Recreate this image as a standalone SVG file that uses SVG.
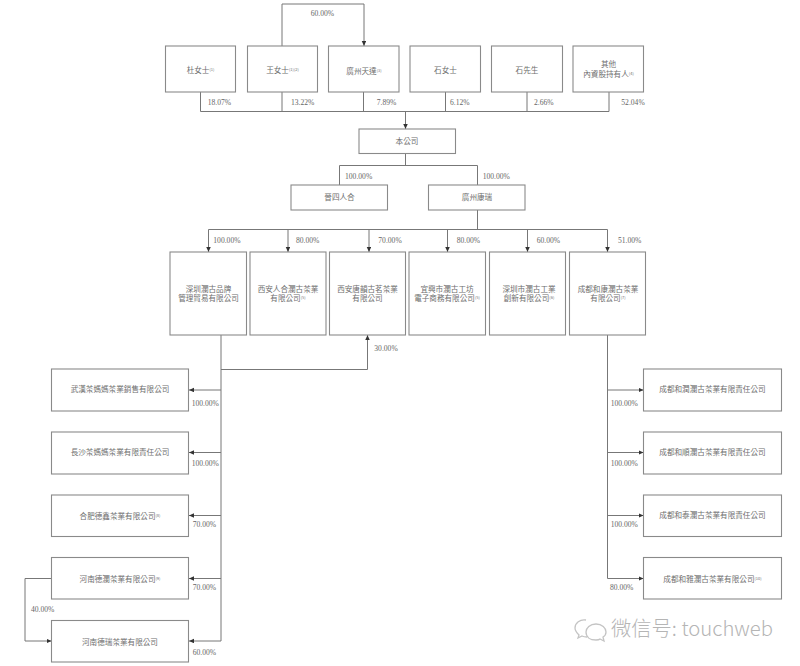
<svg xmlns="http://www.w3.org/2000/svg" width="800" height="666" viewBox="0 0 800 666">
<style>
rect{fill:#fff;stroke:#8a8a8a;stroke-width:1.1}
text{font-family:"Noto Sans CJK TC","Noto Sans CJK SC",sans-serif;font-size:7.6px;fill:#6e6e6e;text-anchor:middle}
.p{font-family:"Liberation Serif",serif;font-size:7.6px;fill:#666;text-anchor:start}
tspan.s{font-size:4px;baseline-shift:2.5px}
#connectors path{fill:none;stroke:#777;stroke-width:1}
#wm text{fill:#b5b5b5;text-anchor:start;font-size:20px;font-family:"Noto Sans CJK SC","Liberation Sans",sans-serif;font-weight:300}
#wm path,#wm circle{fill:none;stroke:#c4c4c4;stroke-width:1.3}
</style>
<defs><marker id="a" markerUnits="userSpaceOnUse" markerWidth="6" markerHeight="6" refX="5" refY="2.25" orient="auto"><path d="M0,0L5,2.25L0,4.5z" fill="#333"/></marker></defs>
<rect x="0" y="0" width="800" height="666" style="fill:#fff;stroke:none"/>
<g id="connectors">
<path d="M282,46V4H364V46" marker-end="url(#a)"/>
<path d="M200.500,92V111.500M282,92V111.500M363.500,92V111.500M445.500,92V111.500M527,92V111.500M609,92V111.500M200.500,111.500H609"/>
<path d="M405.500,111.500V129" marker-end="url(#a)"/>
<path d="M405.500,154V165.500M339.500,185V165.500H477.500V185M477.500,210V229.500M208.500,229.500H607.500"/>
<path d="M208.500,229.500V252" marker-end="url(#a)"/><path d="M288,229.500V252" marker-end="url(#a)"/><path d="M369,229.500V252" marker-end="url(#a)"/><path d="M447.500,229.500V252" marker-end="url(#a)"/><path d="M527.500,229.500V252" marker-end="url(#a)"/><path d="M607.500,229.500V252" marker-end="url(#a)"/>
<path d="M221,335V641"/>
<path d="M221,369.500H367.500V335" marker-end="url(#a)"/>
<path d="M221,390H189" marker-end="url(#a)"/><path d="M221,452.500H189" marker-end="url(#a)"/><path d="M221,515.500H189" marker-end="url(#a)"/><path d="M221,578.500H189" marker-end="url(#a)"/><path d="M221,641H189" marker-end="url(#a)"/>
<path d="M51.500,578.500H25V641H51.500" marker-end="url(#a)"/>
<path d="M607.500,335V578.500H643.500" marker-end="url(#a)"/>
<path d="M607.500,390H643.500" marker-end="url(#a)"/><path d="M607.500,452.500H643.500" marker-end="url(#a)"/><path d="M607.500,515.500H643.500" marker-end="url(#a)"/>
</g>
<g id="n1"><rect x="165.500" y="46" width="70" height="46"/><text x="200.500" y="72.500">杜女士<tspan class="s">(1)</tspan></text></g>
<g id="n2"><rect x="247.500" y="46" width="70" height="46"/><text x="282.500" y="73">王女士<tspan class="s">(1)(2)</tspan></text></g>
<g id="n3"><rect x="328.500" y="46" width="70.500" height="46"/><text x="364" y="74">廣州天達<tspan class="s">(3)</tspan></text></g>
<g id="n4"><rect x="410" y="46" width="70.500" height="46"/><text x="445.500" y="73">石女士</text></g>
<g id="n5"><rect x="491.500" y="46" width="71" height="46"/><text x="527" y="73">石先生</text></g>
<g id="n6"><rect x="573" y="46" width="70.500" height="46"/><text x="608.500" y="66.500">其他</text><text x="608.500" y="77">內資股持有人<tspan class="s">(4)</tspan></text></g>
<g id="n7"><rect x="359" y="129" width="96.500" height="24.500"/><text x="407" y="143.500">本公司</text></g>
<g id="n8"><rect x="291" y="185" width="96.500" height="25"/><text x="339.500" y="200">晉四人合</text></g>
<g id="n9"><rect x="428.500" y="185" width="96.500" height="25"/><text x="477" y="200">廣州康瑞</text></g>
<g id="n10"><rect x="170" y="252" width="76.500" height="83"/><text x="208.500" y="291.500">深圳瀾古品牌</text><text x="208.500" y="301">管理貿易有限公司</text></g>
<g id="n11"><rect x="250" y="252" width="76" height="83"/><text x="288" y="291.500">西安人合瀾古茶業</text><text x="288" y="301">有限公司<tspan class="s">(5)</tspan></text></g>
<g id="n12"><rect x="329.500" y="252" width="76" height="83"/><text x="367.500" y="291.500">西安唐韻古茗茶業</text><text x="367.500" y="301">有限公司</text></g>
<g id="n13"><rect x="409" y="252" width="76.500" height="83"/><text x="447" y="291.500">宜興市瀾古工坊</text><text x="447" y="301">電子商務有限公司<tspan class="s">(5)</tspan></text></g>
<g id="n14"><rect x="489.500" y="252" width="76" height="83"/><text x="529" y="291.500">深圳市瀾古工業</text><text x="529" y="301">創新有限公司<tspan class="s">(6)</tspan></text></g>
<g id="n15"><rect x="569.500" y="252" width="76" height="83"/><text x="608" y="291.500">成都和康瀾古茶業</text><text x="608" y="301">有限公司<tspan class="s">(7)</tspan></text></g>
<g id="n16"><rect x="51.500" y="369" width="137" height="42"/><text x="120" y="392">武漢茶媽媽茶業銷售有限公司</text></g>
<g id="n17"><rect x="51.500" y="432" width="137" height="42"/><text x="120" y="455">長沙茶媽媽茶業有限責任公司</text></g>
<g id="n18"><rect x="51.500" y="495" width="137" height="41.500"/><text x="120" y="518.500">合肥德鑫茶業有限公司<tspan class="s">(8)</tspan></text></g>
<g id="n19"><rect x="51.500" y="557.500" width="137" height="41.500"/><text x="120" y="581.500">河南德瀾茶業有限公司<tspan class="s">(9)</tspan></text></g>
<g id="n20"><rect x="51.500" y="620.500" width="137" height="41.500"/><text x="120" y="645">河南德瑞茶業有限公司</text></g>
<g id="n21"><rect x="643.500" y="369" width="138" height="42"/><text x="712.500" y="392">成都和潤瀾古茶業有限責任公司</text></g>
<g id="n22"><rect x="643.500" y="432" width="138" height="42"/><text x="712.500" y="455">成都和順瀾古茶業有限責任公司</text></g>
<g id="n23"><rect x="643.500" y="495" width="138" height="41.500"/><text x="712.500" y="518">成都和泰瀾古茶業有限責任公司</text></g>
<g id="n24"><rect x="643.500" y="557.500" width="138" height="41.500"/><text x="712.500" y="582">成都和雅瀾古茶業有限公司<tspan class="s">(10)</tspan></text></g>
<g id="labels">
<text class="p" x="310.700" y="15.500">60.00%</text>
<text class="p" x="207.700" y="104.500">18.07%</text><text class="p" x="291" y="104.500">13.22%</text><text class="p" x="376.700" y="104.500">7.89%</text><text class="p" x="450" y="104.500">6.12%</text><text class="p" x="534" y="104.500">2.66%</text><text class="p" x="621.300" y="104.500">52.04%</text>
<text class="p" x="345" y="178.500">100.00%</text><text class="p" x="482.700" y="178.500">100.00%</text>
<text class="p" x="213.300" y="242.500">100.00%</text><text class="p" x="296" y="242.500">80.00%</text><text class="p" x="378.300" y="242.500">70.00%</text><text class="p" x="456.700" y="242.500">80.00%</text><text class="p" x="536.700" y="242.500">60.00%</text><text class="p" x="618" y="242.500">51.00%</text>
<text class="p" x="374.300" y="351">30.00%</text>
<text class="p" x="191.700" y="406">100.00%</text><text class="p" x="191.700" y="466">100.00%</text><text class="p" x="192.700" y="526.500">70.00%</text><text class="p" x="192.700" y="590">70.00%</text><text class="p" x="192.700" y="655">60.00%</text><text class="p" x="31" y="612">40.00%</text>
<text class="p" x="610.700" y="406">100.00%</text><text class="p" x="610.700" y="466">100.00%</text><text class="p" x="610.700" y="526.500">100.00%</text><text class="p" x="610" y="590">80.00%</text>
</g>
<g id="wm">
<path d="M586,620C580,619 575,623 575,628C575,631 577,633 579,635L578,638L582,636C584,637 586,637 587,637"/>
<path d="M596,624C590,624 586,628 586,632C586,637 590,640 596,640C598,640 599,640 600,639L604,641L603,637C605,636 606,634 606,632C606,628 602,624 596,624Z"/>
<text x="611" y="636" textLength="162" lengthAdjust="spacingAndGlyphs">微信号: touchweb</text>
</g>
</svg>
